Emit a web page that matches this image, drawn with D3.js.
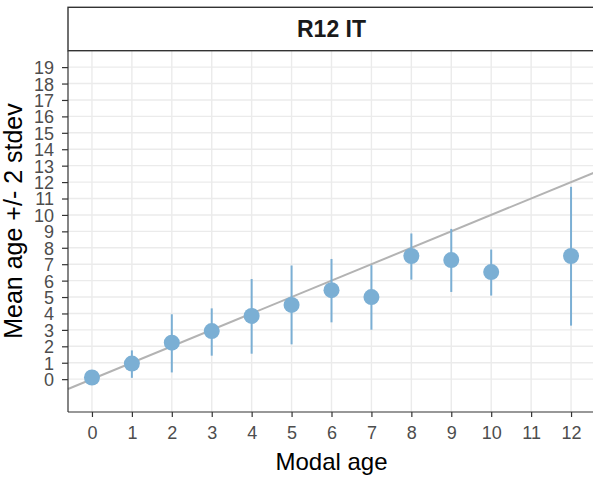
<!DOCTYPE html>
<html>
<head>
<meta charset="utf-8">
<script src="https://cdn.jsdelivr.net/npm/d3@7"></script>
<style>
  html, body { margin: 0; padding: 0; background: #fff; }
  svg { display: block; font-family: Arial, "Liberation Sans", sans-serif; }
</style>
</head>
<body>
<svg id="chart" width="593" height="478"></svg>
<script>
// values
const modalAge = [0, 1, 2, 3, 4, 5, 6, 7, 8, 9, 10, 12];
const meanAge  = [0.1, 0.95, 2.22, 2.93, 3.85, 4.52, 5.42, 5.0, 7.5, 7.25, 6.52, 7.5];
const lowerSd  = [-0.3, 0.08, 0.41, 1.43, 1.55, 2.12, 3.46, 3.01, 6.06, 5.31, 5.09, 3.26];
const upperSd  = [0.5, 1.75, 3.95, 4.31, 6.1, 6.92, 7.32, 6.94, 8.87, 9.15, 7.89, 11.71];
const xTicks = d3.range(0, 13);
const yTicks = d3.range(0, 20);
const stripLabel = "R12 IT";

const svg = d3.select("#chart");

const panel = { left: 68, right: 595, top: 50.7, bottom: 412 };
const strip = { top: 7.3, bottom: 50.7 };

const x = d3.scaleLinear().domain([-0.6, 12.6]).range([panel.left, panel.right]);
const y = d3.scaleLinear().domain([-2, 20]).range([panel.bottom, panel.top]);

// grid
const grid = svg.append("g");
grid.selectAll("line.gy")
  .data(yTicks)
  .join("line")
  .attr("x1", panel.left).attr("x2", panel.right)
  .attr("y1", d => y(d)).attr("y2", d => y(d))
  .attr("stroke", "#ebebeb").attr("stroke-width", 1.4);
grid.selectAll("line.gx")
  .data(xTicks)
  .join("line")
  .attr("x1", d => x(d)).attr("x2", d => x(d))
  .attr("y1", panel.top).attr("y2", panel.bottom)
  .attr("stroke", "#ebebeb").attr("stroke-width", 1.4);

// 1:1 reference line
svg.append("line")
  .attr("x1", x(-0.6)).attr("y1", y(-0.6))
  .attr("x2", x(12.6)).attr("y2", y(12.6))
  .attr("stroke", "#b3b3b3").attr("stroke-width", 2);

const pts = modalAge.map((m, i) => ({ m, mean: meanAge[i], lo: lowerSd[i], hi: upperSd[i] }));

// error bars
svg.append("g").selectAll("line")
  .data(pts)
  .join("line")
  .attr("x1", d => x(d.m)).attr("x2", d => x(d.m))
  .attr("y1", d => y(d.lo)).attr("y2", d => y(d.hi))
  .attr("stroke", "#7bafd4").attr("stroke-width", 2);

// points
svg.append("g").selectAll("circle")
  .data(pts)
  .join("circle")
  .attr("cx", d => x(d.m)).attr("cy", d => y(d.mean))
  .attr("r", 8)
  .attr("fill", "#7bafd4");

// axes
const xAxis = svg.append("g")
  .attr("transform", `translate(0,${panel.bottom})`)
  .call(d3.axisBottom(x).tickValues(xTicks).tickSize(5).tickPadding(9).tickSizeOuter(0));
const yAxis = svg.append("g")
  .attr("transform", `translate(${panel.left},0)`)
  .call(d3.axisLeft(y).tickValues(yTicks).tickSize(6).tickPadding(8).tickSizeOuter(0));

[xAxis, yAxis].forEach(a => {
  a.select(".domain").attr("stroke", "#333").attr("stroke-width", 1.2);
  a.selectAll(".tick line").attr("stroke", "#333").attr("stroke-width", 1.2);
  a.selectAll(".tick text")
    .attr("fill", "#4d4d4d")
    .attr("font-size", "18px")
    .attr("font-family", "Arial, 'Liberation Sans', sans-serif");
});
// y axis line runs up to the strip
yAxis.select(".domain").attr("d", `M0,${panel.bottom}V${panel.top}`);
xAxis.select(".domain").attr("d", `M${panel.left},0H${panel.right}`);
yAxis.selectAll(".tick text").attr("dy", "0.36em");

// strip
svg.append("rect")
  .attr("x", panel.left).attr("y", strip.top)
  .attr("width", panel.right - panel.left + 5).attr("height", strip.bottom - strip.top)
  .attr("fill", "#fff").attr("stroke", "#333").attr("stroke-width", 1.4);
svg.append("text")
  .attr("x", (panel.left + panel.right) / 2)
  .attr("y", (strip.top + strip.bottom) / 2)
  .attr("dy", "0.36em")
  .attr("text-anchor", "middle")
  .attr("font-size", "23px").attr("font-weight", "bold")
  .attr("fill", "#1a1a1a")
  .text(stripLabel);

// axis titles
svg.append("text")
  .attr("x", (panel.left + panel.right) / 2)
  .attr("y", 470)
  .attr("text-anchor", "middle")
  .attr("font-size", "24px")
  .attr("fill", "#000")
  .text("Modal age");
svg.append("text")
  .attr("transform", "translate(22,221) rotate(-90)")
  .attr("text-anchor", "middle")
  .attr("font-size", "25px")
  .attr("fill", "#000")
  .text("Mean age +/- 2 stdev");
</script>
</body>
</html>
